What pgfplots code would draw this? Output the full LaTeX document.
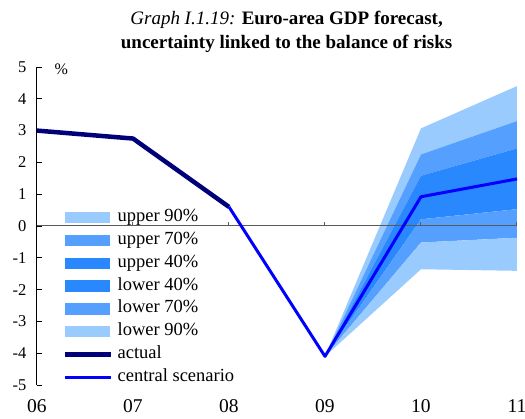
\documentclass[border=0pt]{standalone}
\usepackage{pgfplots}
\pgfplotsset{compat=1.18}
\usepackage{fontspec}
\setmainfont{Liberation Serif}
\definecolor{c90}{RGB}{153,203,255}
\definecolor{c70}{RGB}{85,160,255}
\definecolor{c40}{RGB}{42,136,255}
\definecolor{actualc}{RGB}{0,0,120}
\definecolor{centralc}{RGB}{0,0,255}
\definecolor{zeroc}{RGB}{90,90,90}
\pgfdeclareplotmark{uptick}{\pgfpathmoveto{\pgfpointorigin}\pgfpathlineto{\pgfpoint{0pt}{4pt}}\pgfusepathqstroke}
\pgfplotsset{
 bandleg/.style={legend image code/.code={\fill[##1] (0pt,-5.75pt) rectangle (45pt,5.75pt);}},
 lineleg/.style={legend image code/.code={\draw[##1] (0pt,0pt) -- (46pt,0pt);}},
}
\begin{document}
\begin{tikzpicture}
\useasboundingbox (-37pt,-34pt) rectangle (488pt,385pt);
\begin{axis}[
 at={(0pt,0pt)}, anchor=south west,
 scale only axis, width=480pt, height=318pt,
 xmin=2006, xmax=2011, ymin=-5, ymax=5,
 axis y line*=left, axis x line*=bottom,
 x axis line style={draw=none},
 y axis line style={black, line width=1pt},
 xtick={2006,2007,2008,2009,2010,2011},
 xticklabels={06,07,08,09,10,11},
 xtick style={draw=none},
 ytick={-5,-4,-3,-2,-1,0,1,2,3,4,5},
 yticklabels={-5,-4,-3,-2,-1,0,1,2,3,4,5},
 ytick style={black, line width=0.8pt},
 tick align=inside, major tick length=5pt,
 xticklabel style={font=\fontsize{19.5}{22}\selectfont, yshift=-11pt},
 yticklabel style={font=\fontsize{16.5}{18}\selectfont, xshift=-7pt},
 title={{\itshape Graph I.1.19:} \textbf{Euro-area GDP forecast,}\\\textbf{uncertainty linked to the balance of risks}},
 title style={at={(0.52,1)}, anchor=south, yshift=5pt, align=center, font=\fontsize{19}{23.5}\selectfont},
 legend style={at={(0.054,0.552)}, anchor=north west, draw=none, fill=none,
   font=\fontsize{18.5}{22}\selectfont, inner sep=0pt, row sep=6.8pt, column sep=4pt,
   nodes={inner sep=0pt, text height=12pt, text depth=4pt, anchor=west}},
 legend cell align=left,
 clip=false,
]
\addplot[fill=c90, draw=none, bandleg] coordinates {(2009,-4.1) (2010,3.07) (2011,4.40) (2011,3.30) (2010,2.25)} -- cycle;
\addlegendentry{upper 90\%}
\addplot[fill=c70, draw=none, bandleg] coordinates {(2009,-4.1) (2010,2.25) (2011,3.30) (2011,2.44) (2010,1.58)} -- cycle;
\addlegendentry{upper 70\%}
\addplot[fill=c40, draw=none, bandleg] coordinates {(2009,-4.1) (2010,1.58) (2011,2.44) (2011,1.48) (2010,0.92)} -- cycle;
\addlegendentry{upper 40\%}
\addplot[fill=c40, draw=none, bandleg] coordinates {(2009,-4.1) (2010,0.92) (2011,1.48) (2011,0.53) (2010,0.21)} -- cycle;
\addlegendentry{lower 40\%}
\addplot[fill=c70, draw=none, bandleg] coordinates {(2009,-4.1) (2010,0.21) (2011,0.53) (2011,-0.37) (2010,-0.52)} -- cycle;
\addlegendentry{lower 70\%}
\addplot[fill=c90, draw=none, bandleg] coordinates {(2009,-4.1) (2010,-0.52) (2011,-0.37) (2011,-1.41) (2010,-1.36)} -- cycle;
\addlegendentry{lower 90\%}
\addplot[zeroc, line width=1pt, forget plot] coordinates {(2006,0) (2011,0)};
\addplot[only marks, mark=uptick, zeroc, mark options={line width=1pt}, forget plot] coordinates {(2007,0) (2008,0) (2009,0) (2010,0) (2011,0)};
\addplot[actualc, line width=4.5pt, line join=round, lineleg] coordinates {(2006,3.0) (2007,2.75) (2008,0.6)};
\addlegendentry{actual}
\addplot[centralc, line width=3pt, line join=round, lineleg] coordinates {(2008,0.6) (2009,-4.1) (2010,0.92) (2011,1.48)};
\addlegendentry{central scenario}
\node[anchor=west, font=\fontsize{16}{18}\selectfont] at (rel axis cs:0,1) [xshift=14pt, yshift=-2pt] {\%};
\end{axis}
\end{tikzpicture}
\end{document}
